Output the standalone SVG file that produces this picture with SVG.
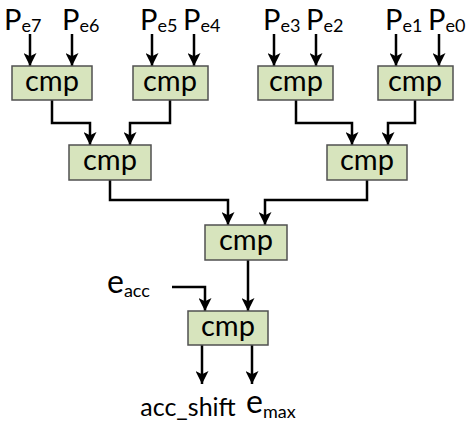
<svg xmlns="http://www.w3.org/2000/svg" width="466" height="428" viewBox="0 0 466 428">
  <defs>
    <style>
      .box { fill: #d7e4bd; stroke: #505050; stroke-width: 1.5; }
      .lbl { font-family: Lato, "Open Sans", sans-serif; font-size: 29px; fill: #000; text-anchor: middle; }
      .in { font-family: Lato, "Open Sans", sans-serif; font-size: 29px; fill: #000; }
      .big { font-size: 32px; }
      .sub { font-size: 18px; }
      .wire { fill: none; stroke: #000; stroke-width: 2.5; marker-end: url(#arrow); }
    </style>
    <marker id="arrow" viewBox="0 0 12 12" refX="12" refY="6" markerWidth="5.2" markerHeight="5.2" orient="auto" markerUnits="strokeWidth">
      <path d="M0,0 L12,6 L0,12 L3,6 Z" fill="#000"/>
    </marker>
  </defs>

  <!-- input labels -->
  <g id="inputs">
    <text class="in" x="4" y="30">P<tspan class="sub" dy="2">e7</tspan></text>
    <text class="in" x="62" y="30">P<tspan class="sub" dy="2">e6</tspan></text>
    <text class="in" x="140" y="30">P<tspan class="sub" dy="2">e5</tspan></text>
    <text class="in" x="183" y="30">P<tspan class="sub" dy="2">e4</tspan></text>
    <text class="in" x="263" y="30">P<tspan class="sub" dy="2">e3</tspan></text>
    <text class="in" x="306" y="30">P<tspan class="sub" dy="2">e2</tspan></text>
    <text class="in" x="385" y="30">P<tspan class="sub" dy="2">e1</tspan></text>
    <text class="in" x="428" y="30">P<tspan class="sub" dy="2">e0</tspan></text>
    <text class="in big" x="107" y="293">e<tspan class="sub" dy="4">acc</tspan></text>
  </g>

  <!-- connectors -->
  <g id="connectors">
    <path class="wire" d="M30,34 V66"/>
    <path class="wire" d="M72,34 V66"/>
    <path class="wire" d="M152,34 V66"/>
    <path class="wire" d="M194,34 V66"/>
    <path class="wire" d="M274,34 V66"/>
    <path class="wire" d="M316,34 V66"/>
    <path class="wire" d="M396,34 V66"/>
    <path class="wire" d="M439,34 V66"/>

    <path class="wire" d="M52,100 V123 H90 V145"/>
    <path class="wire" d="M170,100 V123 H130 V145"/>
    <path class="wire" d="M296,100 V123 H352 V145"/>
    <path class="wire" d="M415,100 V123 H388 V145"/>

    <path class="wire" d="M110,180 V200 H228 V225"/>
    <path class="wire" d="M367,180 V200 H265 V225"/>

    <path class="wire" d="M172,287 H205 V311"/>
    <path class="wire" d="M248,260 V311"/>

    <path class="wire" d="M202,345 V384"/>
    <path class="wire" d="M252,345 V384"/>
  </g>

  <!-- comparators -->
  <g id="cmp-7-6"><rect class="box" x="12" y="66" width="80" height="34"/><text class="lbl" x="52" y="91">cmp</text></g>
  <g id="cmp-5-4"><rect class="box" x="133" y="66" width="75" height="34"/><text class="lbl" x="170" y="91">cmp</text></g>
  <g id="cmp-3-2"><rect class="box" x="258" y="66" width="75" height="34"/><text class="lbl" x="296" y="91">cmp</text></g>
  <g id="cmp-1-0"><rect class="box" x="378" y="66" width="75" height="34"/><text class="lbl" x="415" y="91">cmp</text></g>
  <g id="cmp-left"><rect class="box" x="69" y="145" width="82" height="35"/><text class="lbl" x="110" y="170">cmp</text></g>
  <g id="cmp-right"><rect class="box" x="327" y="145" width="80" height="35"/><text class="lbl" x="367" y="170">cmp</text></g>
  <g id="cmp-root"><rect class="box" x="205" y="225" width="82" height="35"/><text class="lbl" x="246" y="250">cmp</text></g>
  <g id="cmp-acc"><rect class="box" x="188" y="311" width="80" height="34"/><text class="lbl" x="228" y="336">cmp</text></g>

  <!-- outputs -->
  <g id="outputs">
    <text class="lbl" x="188" y="416" style="font-size:25px">acc_shift</text>
    <text class="in big" x="246" y="413">e<tspan class="sub" dy="5">max</tspan></text>
  </g>
</svg>
